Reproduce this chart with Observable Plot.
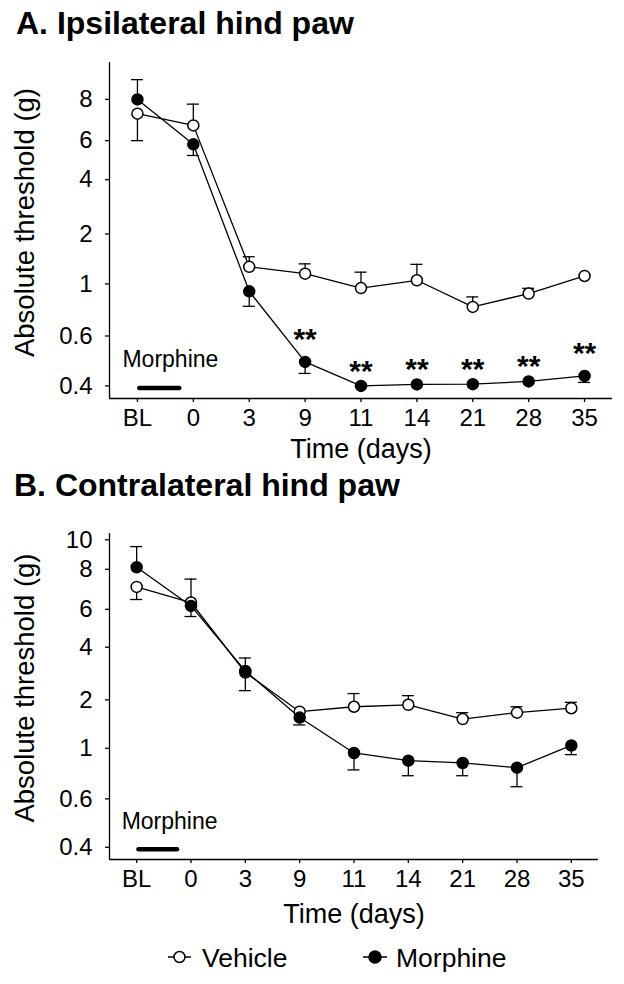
<!DOCTYPE html>
<html><head><meta charset="utf-8">
<script src="https://cdn.jsdelivr.net/npm/d3@7"></script>
<script src="https://cdn.jsdelivr.net/npm/@observablehq/plot@0.6"></script>
<style>
body{margin:0;background:#fff;font-family:"Liberation Sans",Arial,Helvetica,sans-serif;color:#000}
#root{position:relative;width:624px;height:984px;overflow:hidden;background:#fff}
.title{position:absolute;font-weight:bold;font-size:32px;line-height:32px;white-space:nowrap;color:#000}
.panel{position:absolute;left:0}
#legend{position:absolute;left:0;top:937px}
</style></head><body><div id="root">
<div class="title" style="left:16px;top:7px">A. Ipsilateral hind paw</div>
<div class="panel" id="pA" style="top:45px"></div>
<div class="title" style="left:14px;top:469px">B. Contralateral hind paw</div>
<div class="panel" id="pB" style="top:510px"></div>
<svg id="legend" width="624" height="40" font-family="Liberation Sans, Arial, sans-serif" font-size="26.5">
  <line x1="168" x2="191" y1="20" y2="20" stroke="#000" stroke-width="1.5"/>
  <circle cx="179.5" cy="20" r="5.5" fill="#fff" stroke="#000" stroke-width="1.5"/>
  <text x="202" y="29.7" fill="#000">Vehicle</text>
  <line x1="363" x2="387" y1="20" y2="20" stroke="#000" stroke-width="1.5"/>
  <circle cx="375" cy="20" r="6" fill="#000" stroke="#000" stroke-width="1.5"/>
  <text x="396" y="29.7" fill="#000">Morphine</text>
</svg>
</div>
<script>
// Time points
const days = ["BL", "0", "3", "9", "11", "14", "21", "28", "35"];

// Panel A: ipsilateral hind paw, threshold (g); err = visible end of the SEM bar
const ipsiVehicle     = [7.31, 6.74, 1.35, 1.21, 0.968, 1.074, 0.823, 0.926, 1.162];
const ipsiVehicleErr  = [6.0, 7.77, 1.55, 1.41, 1.24, 1.40, 0.90, 0.966, null];
const ipsiMorphine    = [8.0, 5.81, 0.943, 0.496, 0.40, 0.406, 0.407, 0.418, 0.440];
const ipsiMorphineErr = [9.30, 5.24, 0.828, 0.450, null, null, null, null, 0.414];
const ipsiSig         = ["", "", "", "**", "**", "**", "**", "**", "**"];

// Panel B: contralateral hind paw
const contraVehicle     = [7.12, 6.34, 3.04, 1.76, 1.86, 1.90, 1.61, 1.74, 1.83];
const contraVehicleErr  = [6.49, 7.51, 3.59, null, 2.24, 2.16, 1.74, 1.86, 1.95];
const contraMorphine    = [8.14, 6.17, 3.10, 1.64, 0.963, 0.902, 0.884, 0.847, 1.06];
const contraMorphineErr = [9.54, 5.62, 2.35, 1.49, 0.829, 0.783, 0.783, 0.696, 0.95];
const contraSig         = ["", "", "", "", "", "", "", "", ""];

// Tick labels (g)
const ticksA = [0.4, 0.6, 1, 2, 4, 6, 8];
const ticksB = [0.4, 0.6, 1, 2, 4, 6, 8, 10];

// von Frey filament series: force (g) and filament size (log units) -> axis spacing
const filamentGrams = [0.4, 0.6, 1, 1.4, 2, 4, 6, 8, 10, 15];
const filamentSizes = [3.61, 3.84, 4.08, 4.17, 4.31, 4.56, 4.74, 4.93, 5.07, 5.18];

// Treatment period bar
const treatment = {from: "BL", to: "0", label: "Morphine"};

const toSize = d3.scaleLinear(filamentGrams, filamentSizes);
const FONT = "Liberation Sans, Arial, Helvetica, sans-serif";

function panel({vehicle, vehicleErr, morphine, morphineErr, sig, ticks, height, marginTop, marginBottom, marginRight, xLabelDy, yLabelDy}) {
  const rows = (vals, errs, group) => vals.map((v, i) => ({i, group, y: toSize(v), err: errs[i] == null ? null : toSize(errs[i])}));
  const veh = rows(vehicle, vehicleErr, "Vehicle");
  const mor = rows(morphine, morphineErr, "Morphine");
  const errRows = [...veh, ...mor].filter(d => d.err != null);
  const isHigh = d => days[d.i] === "9" || days[d.i] === "35";
  const sigHigh = mor.filter(d => sig[d.i] && isHigh(d));
  const sigLow = mor.filter(d => sig[d.i] && !isHigh(d));
  const yDomain = [3.552, 5.1];
  const tickLabel = new Map(ticks.map(t => [toSize(t), String(t)]));
  const bar = [{x1: days.indexOf(treatment.from), x2: days.indexOf(treatment.to), y: toSize(0.4)}];
  return Plot.plot({
    width: 624, height, marginLeft: 109, marginRight, marginTop, marginBottom,
    style: {fontFamily: FONT, fontSize: "24px", color: "#000", background: "#fff", overflow: "visible"},
    x: {type: "linear", domain: [-0.5, days.length - 0.5]},
    y: {type: "linear", domain: yDomain},
    marks: [
      Plot.axisX(d3.range(days.length), {tickSize: 4, tickPadding: 6, tickFormat: i => days[i], fontSize: 24, label: null, strokeWidth: 1.3}),
      Plot.axisY(ticks.map(toSize), {tickSize: 4, tickPadding: 13, tickFormat: e => tickLabel.get(e), fontSize: 24, label: null, strokeWidth: 1.3}),
      Plot.ruleX([-0.5], {stroke: "#000", strokeWidth: 1.3}),
      Plot.ruleY([yDomain[0]], {stroke: "#000", strokeWidth: 1.3}),
      Plot.text(["Time (days)"], {frameAnchor: "bottom", textAnchor: "middle", lineAnchor: "top", dy: xLabelDy, fontSize: 27, fill: "#000"}),
      Plot.text(["Absolute threshold (g)"], {frameAnchor: "left", textAnchor: "middle", rotate: -90, lineAnchor: "bottom", dx: -75.7, dy: yLabelDy, fontSize: 27.5, fill: "#000"}),
      Plot.ruleY(bar, {x1: "x1", x2: "x2", y: "y", dy: 2, insetLeft: 2.3, insetRight: 13.5, stroke: "#000", strokeWidth: 4.5, strokeLinecap: "round"}),
      Plot.text([treatment.label], {x: bar[0].x1, y: bar[0].y, textAnchor: "start", lineAnchor: "bottom", dx: -15, dy: -18.5, fontSize: 23, fill: "#000"}),
      Plot.line(veh, {x: "i", y: "y", stroke: "#000", strokeWidth: 1.3}),
      Plot.line(mor, {x: "i", y: "y", stroke: "#000", strokeWidth: 1.3}),
      Plot.ruleX(errRows, {x: "i", y1: "y", y2: "err", stroke: "#000", strokeWidth: 1.3}),
      Plot.ruleY(errRows, {x1: "i", x2: "i", y: "err", insetLeft: -6, insetRight: -6, stroke: "#000", strokeWidth: 1.3}),
      Plot.dot(veh, {x: "i", y: "y", r: 5.5, fill: "#fff", stroke: "#000", strokeWidth: 1.5}),
      Plot.dot(mor, {x: "i", y: "y", r: 5.5, fill: "#000", stroke: "#000", strokeWidth: 1.5}),
      Plot.text(sigLow, {x: "i", y: "y", text: d => sig[d.i], lineAnchor: "bottom", dy: -5, fontSize: 30, fontWeight: "bold", fill: "#000"}),
      Plot.text(sigHigh, {x: "i", y: "y", text: d => sig[d.i], lineAnchor: "bottom", dy: -13, fontSize: 30, fontWeight: "bold", fill: "#000"})
    ]
  });
}

document.getElementById("pA").appendChild(panel({
  vehicle: ipsiVehicle, vehicleErr: ipsiVehicleErr, morphine: ipsiMorphine, morphineErr: ipsiMorphineErr,
  sig: ipsiSig, ticks: ticksA, height: 421, marginTop: 17, marginBottom: 68, marginRight: 12, xLabelDy: 40.3, yLabelDy: -8
}));
document.getElementById("pB").appendChild(panel({
  vehicle: contraVehicle, vehicleErr: contraVehicleErr, morphine: contraMorphine, morphineErr: contraMorphineErr,
  sig: contraSig, ticks: ticksB, height: 425, marginTop: 23, marginBottom: 76, marginRight: 26, xLabelDy: 44.7, yLabelDy: -8.5
}));
</script>
</body></html>
